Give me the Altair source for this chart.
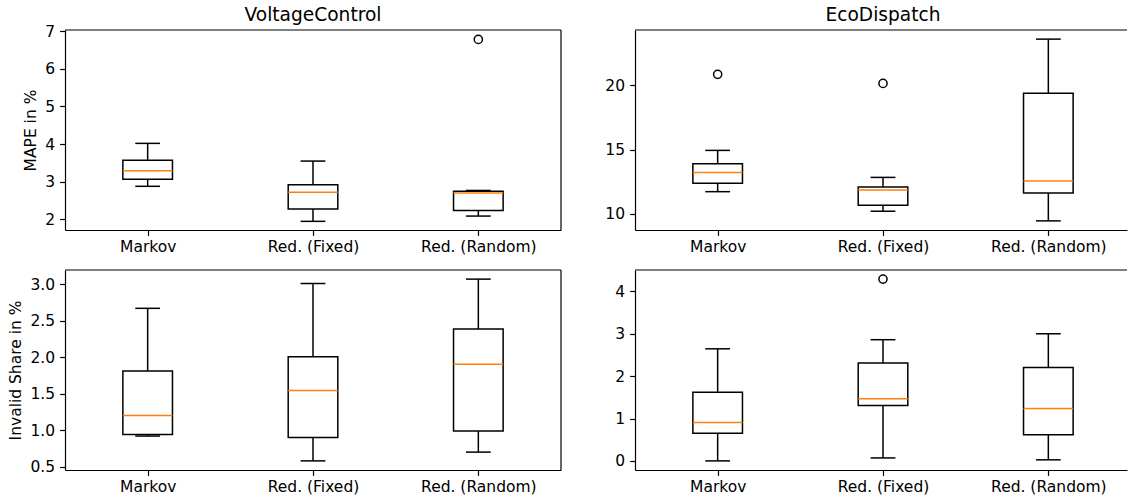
import altair as alt
import pandas as pd

categories = ["Markov", "Red. (Fixed)", "Red. (Random)"]
positions = [1, 2, 3]
panel_titles = ["VoltageControl", "EcoDispatch"]
y_titles = ["MAPE in %", "Invalid Share in %"]

# VoltageControl - MAPE in %
vc_mape_whislo = [2.88, 1.95, 2.09]
vc_mape_q1 = [3.07, 2.28, 2.24]
vc_mape_med = [3.29, 2.72, 2.70]
vc_mape_q3 = [3.57, 2.92, 2.75]
vc_mape_whishi = [4.02, 3.55, 2.77]
vc_mape_flier_pos = [3]
vc_mape_flier_val = [6.78]

# EcoDispatch - MAPE in %
ed_mape_whislo = [11.73, 10.21, 9.46]
ed_mape_q1 = [12.38, 10.67, 11.63]
ed_mape_med = [13.23, 11.86, 12.56]
ed_mape_q3 = [13.90, 12.09, 19.38]
ed_mape_whishi = [14.94, 12.84, 23.59]
ed_mape_flier_pos = [1, 2]
ed_mape_flier_val = [20.85, 20.15]

# VoltageControl - Invalid Share in %
vc_inv_whislo = [0.92, 0.58, 0.70]
vc_inv_q1 = [0.94, 0.90, 0.99]
vc_inv_med = [1.20, 1.545, 1.905]
vc_inv_q3 = [1.81, 2.005, 2.385]
vc_inv_whishi = [2.67, 3.01, 3.07]
vc_inv_flier_pos = []
vc_inv_flier_val = []

# EcoDispatch - Invalid Share in %
ed_inv_whislo = [0.0, 0.07, 0.025]
ed_inv_q1 = [0.655, 1.31, 0.615]
ed_inv_med = [0.905, 1.465, 1.235]
ed_inv_q3 = [1.62, 2.31, 2.205]
ed_inv_whishi = [2.645, 2.86, 3.0]
ed_inv_flier_pos = [2]
ed_inv_flier_val = [4.29]

FONT = "DejaVu Sans"
H = 200
W_LEFT = 496
W_RIGHT = 492
LW = 1.5
SPINE_W = 1.2
MEDIAN_COLOR = "#ff7f0e"
TICK_FS = 15.5
TITLE_FS = 18.6

label_expr = "[" + ",".join("'%s'" % c for c in categories) + "][datum.value - 1]"


def panel(lo, q1, med, q3, hi, fpos, fval, ydom, yticks, yfmt, width,
          title=None, ytitle=None, right_spine=True):
    xmax = 0.5 + 3.0 * width / W_LEFT
    df = pd.DataFrame({"cat": categories, "pos": positions, "lo": lo,
                       "q1": q1, "med": med, "q3": q3, "hi": hi})
    base = alt.Chart(df).transform_calculate(
        xl="datum.pos - 0.15", xr="datum.pos + 0.15",
        cl="datum.pos - 0.075", cr="datum.pos + 0.075")
    xs = alt.Scale(domain=[0.5, xmax], nice=False, zero=False)
    ys = alt.Scale(domain=ydom, nice=False, zero=False)
    xaxis = alt.Axis(values=positions, labelExpr=label_expr, title=None,
                     grid=False, domain=True, labelAngle=0, labelPadding=4)
    yaxis = alt.Axis(values=yticks, format=yfmt, title=ytitle, grid=False,
                     domain=True, labelPadding=5)

    def X(f):
        return alt.X(f, scale=xs, axis=xaxis)

    def Y(f):
        return alt.Y(f, scale=ys, axis=yaxis)

    layers = []
    layers.append(base.mark_rule(color="black", strokeWidth=LW).encode(
        x=X("pos:Q"), y=Y("q3:Q"), y2="hi:Q"))
    layers.append(base.mark_rule(color="black", strokeWidth=LW).encode(
        x=X("pos:Q"), y=Y("lo:Q"), y2="q1:Q"))
    for fld in ["hi", "lo"]:
        layers.append(base.mark_rule(color="black", strokeWidth=LW).encode(
            x=X("cl:Q"), x2="cr:Q", y=Y(fld + ":Q")))
    layers.append(base.mark_rect(stroke="black", strokeWidth=LW,
                                 fillOpacity=0).encode(
        x=X("xl:Q"), x2="xr:Q", y=Y("q1:Q"), y2="q3:Q"))
    layers.append(base.mark_rule(color=MEDIAN_COLOR, strokeWidth=LW).encode(
        x=X("xl:Q"), x2="xr:Q", y=Y("med:Q")))
    if len(fpos):
        fdf = pd.DataFrame({"pos": fpos, "val": fval})
        layers.append(alt.Chart(fdf).mark_point(
            shape="circle", filled=False, color="black", strokeWidth=LW,
            size=67, opacity=1).encode(x=X("pos:Q"), y=Y("val:Q")))
    one = pd.DataFrame({"a": [0]})
    layers.append(alt.Chart(one).mark_rule(color="black", strokeWidth=SPINE_W).encode(
        x=alt.value(0), x2=alt.value(width), y=alt.value(0)))
    if right_spine:
        layers.append(alt.Chart(one).mark_rule(color="black", strokeWidth=SPINE_W).encode(
            x=alt.value(width), y=alt.value(0), y2=alt.value(H)))
    if title:
        tdf = pd.DataFrame({"t": [title]})
        layers.append(alt.Chart(tdf).mark_text(
            font=FONT, fontSize=TITLE_FS, color="black", align="center",
            baseline="alphabetic").encode(
            text="t:N", x=alt.value(W_LEFT / 2), y=alt.value(-9.3)))
    return alt.layer(*layers).properties(width=width, height=H)


p11 = panel(vc_mape_whislo, vc_mape_q1, vc_mape_med, vc_mape_q3, vc_mape_whishi,
            vc_mape_flier_pos, vc_mape_flier_val, [1.72, 7.03],
            [2, 3, 4, 5, 6, 7], "d", W_LEFT, title=panel_titles[0],
            ytitle=y_titles[0])
p12 = panel(ed_mape_whislo, ed_mape_q1, ed_mape_med, ed_mape_q3, ed_mape_whishi,
            ed_mape_flier_pos, ed_mape_flier_val, [8.75, 24.3],
            [10, 15, 20], "d", W_RIGHT, title=panel_titles[1], right_spine=False)
p21 = panel(vc_inv_whislo, vc_inv_q1, vc_inv_med, vc_inv_q3, vc_inv_whishi,
            vc_inv_flier_pos, vc_inv_flier_val, [0.455, 3.195],
            [0.5, 1.0, 1.5, 2.0, 2.5, 3.0], ".1f", W_LEFT,
            ytitle=y_titles[1])
p22 = panel(ed_inv_whislo, ed_inv_q1, ed_inv_med, ed_inv_q3, ed_inv_whishi,
            ed_inv_flier_pos, ed_inv_flier_val, [-0.215, 4.505],
            [0, 1, 2, 3, 4], "d", W_RIGHT, right_spine=False)

chart = alt.concat(p11, p12, p21, p22, columns=2,
                   spacing=alt.RowColnumber(row=40, column=74)).properties(
    bounds="flush",
    padding={"left": 8, "top": 5, "right": 0, "bottom": 0},
    background="white",
).configure_view(strokeWidth=0).configure_axis(
    labelFont=FONT, titleFont=FONT, labelFontSize=TICK_FS, titleFontSize=TICK_FS,
    titleFontWeight="normal", labelColor="black", titleColor="black",
    tickColor="black", domainColor="black", tickSize=5.4, tickWidth=SPINE_W,
    domainWidth=SPINE_W, titlePadding=6, labelFlush=False,
    labelOverlap=False,
)

chart.save("out.html", embed_options={"renderer": "svg", "actions": False})
